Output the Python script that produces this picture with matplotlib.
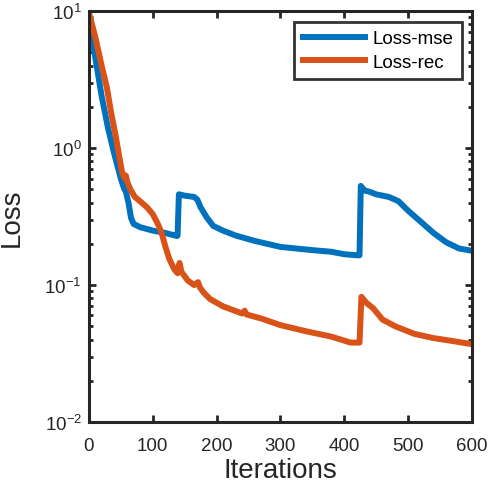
import matplotlib
matplotlib.use("Agg")
import matplotlib.pyplot as plt
from matplotlib.ticker import LogLocator, NullFormatter

plt.rcParams['font.family'] = ['Liberation Sans', 'DejaVu Sans']
plt.rcParams['mathtext.fontset'] = 'custom'
plt.rcParams['mathtext.rm'] = 'Liberation Sans'
plt.rcParams['mathtext.default'] = 'regular'

# Loss-mse
mse_x = [0, 5, 10, 20, 30, 40, 50, 55, 58, 62, 66, 70, 80, 100, 120, 138, 139,
         141, 150, 165, 170, 175, 185, 195, 210, 230, 260, 300, 350, 380, 400,
         420, 424, 426, 432, 440, 450, 470, 485, 500, 520, 540, 560, 580, 600]
mse_y = [9.0, 6.6, 4.6, 2.4, 1.4, 0.9, 0.6, 0.51, 0.48, 0.40, 0.31, 0.28,
         0.265, 0.25, 0.24, 0.228, 0.23, 0.46, 0.45, 0.44, 0.42, 0.37, 0.31,
         0.27, 0.25, 0.23, 0.21, 0.19, 0.18, 0.175, 0.168, 0.165, 0.165, 0.53,
         0.49, 0.48, 0.46, 0.44, 0.41, 0.35, 0.29, 0.24, 0.205, 0.185, 0.178]

# Loss-rec
rec_x = [0, 10, 20, 28, 35, 41, 47, 52, 56, 58, 60, 65, 72, 80, 91, 100, 108,
         114, 120, 126, 134, 139, 142, 145, 155, 165, 171, 174, 180, 190, 210,
         240, 244, 247, 270, 300, 340, 380, 410, 424, 427, 435, 445, 460, 480,
         510, 540, 570, 600]
rec_y = [9.8, 6.5, 4.0, 2.8, 1.8, 1.3, 0.9, 0.67, 0.60, 0.63, 0.57, 0.50, 0.44,
         0.41, 0.37, 0.33, 0.28, 0.24, 0.19, 0.155, 0.13, 0.122, 0.145, 0.125,
         0.108, 0.10, 0.105, 0.096, 0.088, 0.079, 0.070, 0.062, 0.065, 0.061,
         0.057, 0.051, 0.046, 0.042, 0.038, 0.038, 0.082, 0.074, 0.068, 0.056,
         0.050, 0.044, 0.041, 0.039, 0.037]

fig = plt.figure(figsize=(4.91, 4.89), dpi=100)
ax = fig.add_axes([0.181, 0.135, 0.780, 0.840])

ax.plot(mse_x, mse_y, color='#0072BD', linewidth=4.3, label='Loss-mse')
ax.plot(rec_x, rec_y, color='#D95319', linewidth=4.3, label='Loss-rec')

ax.set_yscale('log')
ax.set_xlim(0, 600)
ax.set_ylim(1e-2, 1e1)
ax.set_xticks([0, 100, 200, 300, 400, 500, 600])
ax.yaxis.set_major_locator(LogLocator(base=10, numticks=10))
ax.yaxis.set_minor_locator(LogLocator(base=10, subs=range(2, 10), numticks=20))
ax.yaxis.set_minor_formatter(NullFormatter())

for s in ax.spines.values():
    s.set_linewidth(2.2)
    s.set_color('#262626')
ax.tick_params(which='both', direction='in', top=True, right=True,
               color='#262626', width=2.0, labelsize=13.5, labelcolor='#262626')
ax.tick_params(which='major', length=5)
ax.tick_params(which='minor', length=3)
ax.tick_params(axis='x', pad=11)
ax.tick_params(axis='y', pad=5)

ax.set_xlabel('Iterations', fontsize=20, color='#262626', labelpad=2)
ax.set_ylabel('Loss', fontsize=20, color='#262626', labelpad=14)

leg = ax.legend(loc='upper right', fontsize=13.5, frameon=True, fancybox=False,
                edgecolor='black', handlelength=3.3, handletextpad=0.4,
                borderpad=0.45, labelspacing=0.35, borderaxespad=0.55)
leg.get_frame().set_linewidth(2.0)

fig.savefig('out.png', dpi=100)
